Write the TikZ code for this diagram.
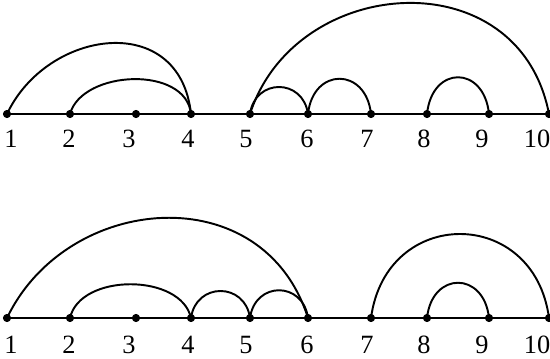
\documentclass[tikz,border=0pt]{standalone}
\usepackage{fontspec}
\setmainfont{Liberation Serif}
\begin{document}
\begin{tikzpicture}[x=0.02cm, y=0.02cm, line width=1.1pt, line cap=round,
		dot/.style={circle, fill=black, draw=black, line width=0.4pt, inner sep=0pt, minimum size=4.2pt},
		num/.style={font=\fontsize{15}{17}\selectfont, inner sep=0pt, anchor=base}]
			\useasboundingbox (0,0) rectangle (550,358);

			% Точки и подписи
			\foreach \i/\x/\lx in {1/7/11, 2/70/69, 3/136/129, 4/191/188, 5/250/246, 6/308/307, 7/371/367, 8/427/424, 9/489/482, 10/549/537} {
				\node[dot] (t\i) at (\x,244) {};
				\node[num] (tl\i) at (\lx,210) {\i};
				\node[dot] (b\i) at (\x,40) {};
				\node[num] (bl\i) at (\lx,5) {\i};
			}

			% Оси
			\draw (t1.center) -- (t10.center);
			\draw (b1.center) -- (b10.center);

			% Верхние дуги
			\draw (t1.center) .. controls +(40,85) and +(-11,104) .. (t4.center);
			\draw (t2.center) .. controls +(12,44) and +(-5,49) .. (t4.center);
			\draw (t5.center) .. controls +(45,140) and +(-30,156) .. (t10.center);
			\draw (t5.center) .. controls +(5,36) and +(-5,36) .. (t6.center);
			\draw (t6.center) .. controls +(5,47) and +(-5,47) .. (t7.center);
			\draw (t8.center) .. controls +(5,49) and +(-5,49) .. (t9.center);

			% Нижние дуги
			\draw (b1.center) .. controls +(60,125) and +(-45,142) .. (b6.center);
			\draw (b2.center) .. controls +(10,45) and +(-10,45) .. (b4.center);
			\draw (b4.center) .. controls +(5,36) and +(-5,36) .. (b5.center);
			\draw (b5.center) .. controls +(5,37) and +(-5,37) .. (b6.center);
			\draw (b7.center) .. controls +(15,112) and +(-15,112) .. (b10.center);
			\draw (b8.center) .. controls +(5,47) and +(-5,47) .. (b9.center);
		\end{tikzpicture}
\end{document}
